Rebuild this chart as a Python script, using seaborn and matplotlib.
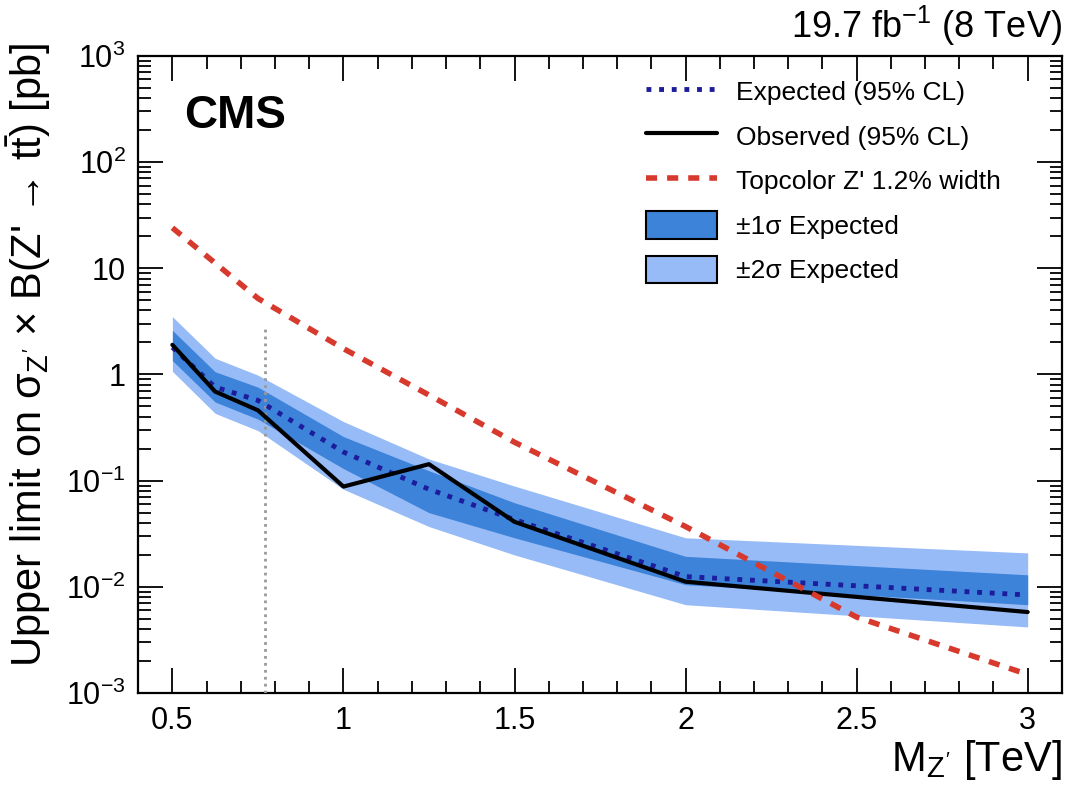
import numpy as np
import pandas as pd
import matplotlib
matplotlib.use("Agg")
import matplotlib.pyplot as plt
import seaborn as sns
from matplotlib.patches import Patch
from matplotlib.lines import Line2D
from matplotlib.ticker import MultipleLocator, LogLocator, NullFormatter, FixedLocator, FixedFormatter

# ---- data ----
mass = [0.5, 0.625, 0.75, 1.0, 1.25, 1.5, 2.0, 3.0]
observed = [1.9, 0.69, 0.46, 0.088, 0.143, 0.041, 0.0112, 0.0058]
expected = [1.8, 0.76, 0.57, 0.186, 0.083, 0.043, 0.0125, 0.0084]
exp_1s_lo = [1.35, 0.55, 0.38, 0.13, 0.05, 0.029, 0.0105, 0.0068]
exp_1s_hi = [2.6, 1.06, 0.76, 0.26, 0.124, 0.062, 0.0194, 0.0130]
exp_2s_lo = [1.07, 0.43, 0.296, 0.083, 0.037, 0.020, 0.0068, 0.0042]
exp_2s_hi = [3.5, 1.42, 0.985, 0.36, 0.16, 0.089, 0.029, 0.0209]

topcolor_mass = [0.5, 0.75, 1.0, 1.25, 1.5, 2.0, 2.5, 3.0]
topcolor_xs = [24.0, 5.2, 1.75, 0.64, 0.23, 0.037, 0.0052, 0.0015]

ref_line_x = [0.77, 0.77]
ref_line_y = [1e-3, 2.85]

ytick_vals = [1e-3, 1e-2, 1e-1, 1, 10, 1e2, 1e3]
ytick_labels = ["$10^{-3}$", "$10^{-2}$", "$10^{-1}$", "1", "10", "$10^{2}$", "$10^{3}$"]
xtick_vals = [0.5, 1, 1.5, 2, 2.5, 3]
xtick_labels = ["0.5", "1", "1.5", "2", "2.5", "3"]

# ---- style ----
sns.set_style("ticks")
plt.rcParams["font.family"] = ["Liberation Sans", "DejaVu Sans"]
plt.rcParams["mathtext.fontset"] = "custom"
plt.rcParams["mathtext.rm"] = "Liberation Sans"
plt.rcParams["mathtext.it"] = "Liberation Sans"
plt.rcParams["mathtext.bf"] = "Liberation Sans:bold"
plt.rcParams["text.color"] = "black"
plt.rcParams["axes.labelcolor"] = "black"
plt.rcParams["xtick.color"] = "black"
plt.rcParams["ytick.color"] = "black"
plt.rcParams["axes.edgecolor"] = "black"

fig = plt.figure(figsize=(10.88, 7.85), dpi=100)
ax = fig.add_axes([0.127, 0.117, 0.849, 0.812])

c_1s = "#3d83d9"
c_2s = "#97bbf6"
c_exp = "#1c1c9c"
c_red = "#d8392d"

ax.fill_between(mass, exp_2s_lo, exp_2s_hi, color=c_2s, lw=0, zorder=1)
ax.fill_between(mass, exp_1s_lo, exp_1s_hi, color=c_1s, lw=0, zorder=2)

df = pd.DataFrame({"mass": mass, "observed": observed, "expected": expected})
dft = pd.DataFrame({"mass": topcolor_mass, "xs": topcolor_xs})

sns.lineplot(data=df, x="mass", y="expected", ax=ax, color=c_exp, lw=3.5,
             linestyle=(0, (1, 1.6)), zorder=4)
sns.lineplot(data=df, x="mass", y="observed", ax=ax, color="black", lw=3, zorder=5)
sns.lineplot(data=dft, x="mass", y="xs", ax=ax, color=c_red, lw=4,
             linestyle=(0, (2, 1.8)), zorder=6)
ax.plot(ref_line_x, ref_line_y, color="#999999", lw=2, linestyle=(0, (1, 1.5)), zorder=3)

ax.set_yscale("log")
ax.set_xlim(0.4, 3.1)
ax.set_ylim(1e-3, 1e3)

ax.yaxis.set_major_locator(FixedLocator(ytick_vals))
ax.yaxis.set_major_formatter(FixedFormatter(ytick_labels))
ax.yaxis.set_minor_locator(LogLocator(base=10, subs=np.arange(2, 10), numticks=100))
ax.yaxis.set_minor_formatter(NullFormatter())
ax.xaxis.set_major_locator(FixedLocator(xtick_vals))
ax.xaxis.set_major_formatter(FixedFormatter(xtick_labels))
ax.xaxis.set_minor_locator(MultipleLocator(0.1))

ax.tick_params(which="both", direction="in", top=True, right=True, labelsize=22, width=1.3)
ax.tick_params(which="major", length=18, pad=9)
ax.tick_params(which="minor", length=9)
for s in ax.spines.values():
    s.set_linewidth(1.6)

ax.set_xlabel("M$_{Z'}$ [TeV]", fontsize=30, loc="right", labelpad=2)
ax.set_ylabel(r"Upper limit on σ$_{Z'}$ × B(Z' → t$\mathrm{\bar{t}}$) [pb]", fontsize=30)
ax.yaxis.set_label_coords(-0.092, 0.53)

ax.text(0.05, 0.94, "CMS", transform=ax.transAxes, fontsize=33, fontweight="bold",
        va="top", ha="left")
fig.text(0.976, 0.952, "19.7 fb$^{-1}$ (8 TeV)", fontsize=26, ha="right", va="baseline")

handles = [
    Line2D([], [], color=c_exp, lw=3.5, linestyle=(0, (1, 1.6))),
    Line2D([], [], color="black", lw=3),
    Line2D([], [], color=c_red, lw=4, linestyle=(0, (2, 1.8))),
    Patch(facecolor=c_1s, edgecolor="black", lw=1.5),
    Patch(facecolor=c_2s, edgecolor="black", lw=1.5),
]
labels = ["Expected (95% CL)", "Observed (95% CL)", "Topcolor Z' 1.2% width",
          r"±1σ Expected", r"±2σ Expected"]
ax.legend(handles, labels, loc="upper left", bbox_to_anchor=(0.53, 0.995), frameon=False,
          fontsize=19, handlelength=2.7, handleheight=1.25, labelspacing=0.63,
          handletextpad=0.7, borderaxespad=0.3)

fig.savefig("out.png", dpi=100)
